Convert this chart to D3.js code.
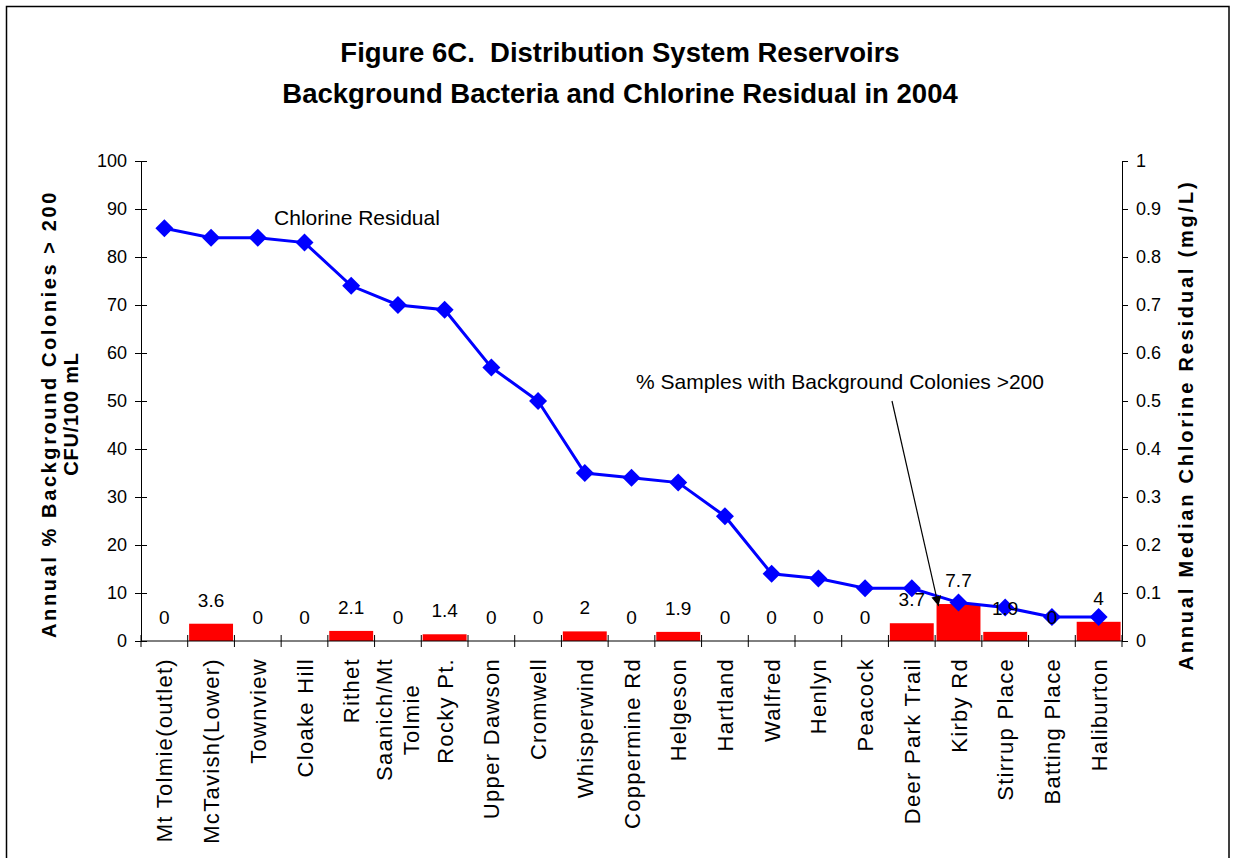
<!DOCTYPE html>
<html>
<head>
<meta charset="utf-8">
<script src="https://cdn.jsdelivr.net/npm/d3@7/dist/d3.min.js"></script>
<style>
  html, body { margin: 0; padding: 0; background: #fff; }
  svg { display: block; font-family: "Liberation Sans", Arial, sans-serif; }
  .title { white-space: pre; }
</style>
</head>
<body>
<svg id="chart" width="1235" height="858"></svg>
<script>
// Reservoirs, ordered by annual median chlorine residual
const reservoirs = [
  "Mt Tolmie(outlet)", "McTavish(Lower)", "Townview", "Cloake Hill", "Rithet",
  "Saanich/Mt\nTolmie", "Rocky Pt.", "Upper Dawson", "Cromwell", "Whisperwind",
  "Coppermine Rd", "Helgeson", "Hartland", "Walfred", "Henlyn", "Peacock",
  "Deer Park Trail", "Kirby Rd", "Stirrup Place", "Batting Place", "Haliburton"
];
// % samples with background colonies > 200 CFU/100 mL
const bacteriaPct = [0, 3.6, 0, 0, 2.1, 0, 1.4, 0, 0, 2, 0, 1.9, 0, 0, 0, 0, 3.7, 7.7, 1.9, 0, 4];
// Annual median chlorine residual (mg/L)
const chlorine = [0.86, 0.84, 0.84, 0.83, 0.74, 0.70, 0.69, 0.57, 0.50, 0.35, 0.34, 0.33, 0.26,
                  0.14, 0.13, 0.11, 0.11, 0.08, 0.07, 0.05, 0.05];
const leftTicks = [0, 10, 20, 30, 40, 50, 60, 70, 80, 90, 100];
const rightTicks = [0, 0.1, 0.2, 0.3, 0.4, 0.5, 0.6, 0.7, 0.8, 0.9, 1];

const titleLines = ["Figure 6C.  Distribution System Reservoirs",
                    "Background Bacteria and Chlorine Residual in 2004"];
const leftTitle = ["Annual % Background Colonies > 200", "CFU/100 mL"];
const rightTitle = "Annual Median Chlorine Residual (mg/L)";

const svg = d3.select("#chart");
const plot = { left: 141, right: 1122, top: 161, bottom: 641 };

const x = d3.scaleBand().domain(reservoirs).range([plot.left, plot.right]).paddingInner(0.06).paddingOuter(0.03);
const xb = d3.scaleBand().domain(reservoirs).range([plot.left, plot.right]);
const yL = d3.scaleLinear().domain([0, 100]).range([plot.bottom, plot.top]);
const yR = d3.scaleLinear().domain([0, 1]).range([plot.bottom, plot.top]);

// outer frame
svg.append("rect").attr("x", 6.5).attr("y", 6.5).attr("width", 1222.5).attr("height", 900)
  .attr("fill", "none").attr("stroke", "#000").attr("stroke-width", 1.5);

// title
svg.append("g").selectAll("text").data(titleLines).join("text")
  .attr("class", "title")
  .attr("x", 620).attr("y", (d, i) => 62 + i * 41)
  .attr("text-anchor", "middle").attr("font-weight", "bold").attr("font-size", 27.5)
  .text(d => d);

// bars
svg.append("g").selectAll("rect").data(reservoirs).join("rect")
  .attr("x", d => x(d)).attr("width", x.bandwidth())
  .attr("y", (d, i) => yL(bacteriaPct[i]))
  .attr("height", (d, i) => yL(0) - yL(bacteriaPct[i]))
  .attr("fill", "#ff0000");

// left axis
const axL = svg.append("g").attr("transform", `translate(${plot.left},0)`)
  .call(d3.axisLeft(yL).tickValues(leftTicks).tickSize(6).tickPadding(8));
axL.selectAll(".tick line").attr("x2", 6).attr("x1", -6);

// right axis
svg.append("g").attr("transform", `translate(${plot.right},0)`)
  .call(d3.axisRight(yR).tickValues(rightTicks).tickSize(6).tickPadding(8).tickFormat(d3.format("~g")));

// bottom axis: ticks between categories
const bottom = svg.append("g").attr("transform", `translate(0,${plot.bottom})`);
bottom.append("line").attr("x1", plot.left).attr("x2", plot.right).attr("stroke", "#000");
const bounds = reservoirs.map(d => xb(d)).concat([plot.right]);
bottom.selectAll("line.tk").data(bounds).join("line").attr("class", "tk")
  .attr("x1", d => d).attr("x2", d => d).attr("y1", -6).attr("y2", 6).attr("stroke", "#000");

svg.selectAll(".domain").attr("stroke", "#000");
svg.selectAll(".tick line").attr("stroke", "#000");
svg.selectAll(".tick text").attr("font-size", 18).attr("fill", "#000").attr("font-family", "\"Liberation Sans\", Arial, sans-serif");

// category labels, rotated
const catG = svg.append("g");
reservoirs.forEach(name => {
  const lines = name.split("\n");
  const cx = xb(name) + xb.bandwidth() / 2;
  const g = catG.append("g").attr("transform", `translate(${cx},658) rotate(-90)`);
  const lh = 27;
  const texts = g.selectAll("text").data(lines).join("text")
    .attr("y", (d, i) => 8 + (i - (lines.length - 1) / 2) * lh)
    .attr("font-size", 22).attr("letter-spacing", 1.3)
    .text(d => d);
  if (lines.length === 1) {
    texts.attr("x", 0).attr("text-anchor", "end");
  } else {
    const w = d3.max(texts.nodes(), n => n.getComputedTextLength());
    texts.attr("x", -w / 2).attr("text-anchor", "middle");
  }
});

// chlorine residual line
const line = d3.line().x((d, i) => xb(reservoirs[i]) + xb.bandwidth() / 2).y(d => yR(d));
svg.append("path").datum(chlorine).attr("d", line)
  .attr("fill", "none").attr("stroke", "#0000ff").attr("stroke-width", 3);
const dm = 9;
svg.append("g").selectAll("path").data(chlorine).join("path")
  .attr("transform", (d, i) => `translate(${xb(reservoirs[i]) + xb.bandwidth() / 2},${yR(d)})`)
  .attr("d", `M0,${-dm}L${dm},0L0,${dm}L${-dm},0Z`)
  .attr("fill", "#0000ff");

// bar value labels
svg.append("g").selectAll("text").data(bacteriaPct).join("text")
  .attr("x", (d, i) => xb(reservoirs[i]) + xb.bandwidth() / 2)
  .attr("y", d => yL(d) - 17)
  .attr("text-anchor", "middle").attr("font-size", 19)
  .text(d => d);

// series annotations
svg.append("text").attr("x", 357).attr("y", 225).attr("text-anchor", "middle")
  .attr("font-size", 21).text("Chlorine Residual");
svg.append("text").attr("x", 840).attr("y", 389).attr("text-anchor", "middle")
  .attr("font-size", 21).text("% Samples with Background Colonies >200");

svg.append("defs").append("marker").attr("id", "arrow").attr("viewBox", "0 0 10 10")
  .attr("refX", 10).attr("refY", 5).attr("markerWidth", 10).attr("markerHeight", 10)
  .attr("markerUnits", "userSpaceOnUse").attr("orient", "auto")
  .append("path").attr("d", "M0,0L10,5L0,10Z").attr("fill", "#000");
const kirby = reservoirs[17];
svg.append("line").attr("x1", 892).attr("y1", 401)
  .attr("x2", x(kirby) + 2).attr("y2", yL(bacteriaPct[17]) + 2)
  .attr("stroke", "#000").attr("stroke-width", 1.2).attr("marker-end", "url(#arrow)");

// axis titles
const lt = svg.append("g").attr("transform", "translate(0,414) rotate(-90)");
lt.selectAll("text").data(leftTitle).join("text")
  .attr("x", 0).attr("y", (d, i) => 56 + i * 22)
  .attr("text-anchor", "middle").attr("font-weight", "bold").attr("font-size", 20)
  .attr("letter-spacing", (d, i) => i === 0 ? 2.6 : 0.8)
  .text(d => d);
svg.append("text").attr("transform", "translate(1193,425) rotate(-90)")
  .attr("text-anchor", "middle").attr("font-weight", "bold").attr("font-size", 20)
  .attr("letter-spacing", 2.8).text(rightTitle);
</script>
</body>
</html>
